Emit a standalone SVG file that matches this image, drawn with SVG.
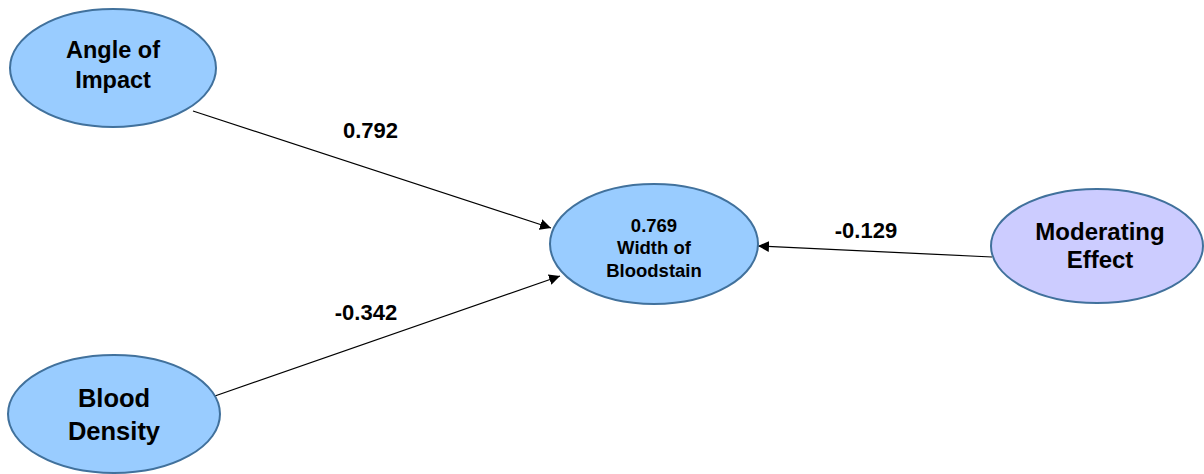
<svg xmlns="http://www.w3.org/2000/svg" width="1204" height="474" viewBox="0 0 1204 474">
<defs>
<style>
.node{fill:#99ccff;stroke:#41719c;stroke-width:2}
.mod{fill:#ccccff;stroke:#41719c;stroke-width:2}
.t{font-family:"Liberation Sans",Arial,sans-serif;font-weight:bold;fill:#000;text-anchor:middle}
.lbl{font-size:22px}
.edge{stroke:#000;stroke-width:1.2;fill:none}
</style>
<marker id="arr" viewBox="0 0 10 10" refX="10" refY="5" markerWidth="11" markerHeight="11" markerUnits="userSpaceOnUse" orient="auto">
<path d="M0,0 L10,5 L0,10 z" fill="#000"/>
</marker>
</defs>
<rect width="1204" height="474" fill="#fff"/>
<g id="connectors">
<line class="edge" x1="193" y1="111" x2="551" y2="228" marker-end="url(#arr)"/>
<line class="edge" x1="212" y1="397" x2="560" y2="276" marker-end="url(#arr)"/>
<line class="edge" x1="992" y1="257" x2="758" y2="246" marker-end="url(#arr)"/>
<text class="t lbl" x="370.5" y="138">0.792</text>
<text class="t lbl" x="366" y="320">-0.342</text>
<text class="t lbl" x="866" y="238">-0.129</text>
</g>
<g id="angle">
<ellipse class="node" cx="113" cy="68" rx="103" ry="59"/>
<text class="t" x="113" y="58" font-size="23.5">Angle of</text>
<text class="t" x="113" y="88" font-size="23.5">Impact</text>
</g>
<g id="width">
<ellipse class="node" cx="654" cy="244" rx="104" ry="60"/>
<text class="t" x="654" y="232" font-size="18.5">0.769</text>
<text class="t" x="654" y="254" font-size="18.5">Width of</text>
<text class="t" x="654" y="277" font-size="18.5">Bloodstain</text>
</g>
<g id="moderating">
<ellipse class="mod" cx="1097" cy="246" rx="106" ry="57"/>
<text class="t" x="1100" y="240" font-size="24">Moderating</text>
<text class="t" x="1100" y="268" font-size="24">Effect</text>
</g>
<g id="blood">
<ellipse class="node" cx="114" cy="414" rx="106" ry="59"/>
<text class="t" x="114" y="407" font-size="25.5">Blood</text>
<text class="t" x="114" y="440" font-size="25.5">Density</text>
</g>
</svg>
